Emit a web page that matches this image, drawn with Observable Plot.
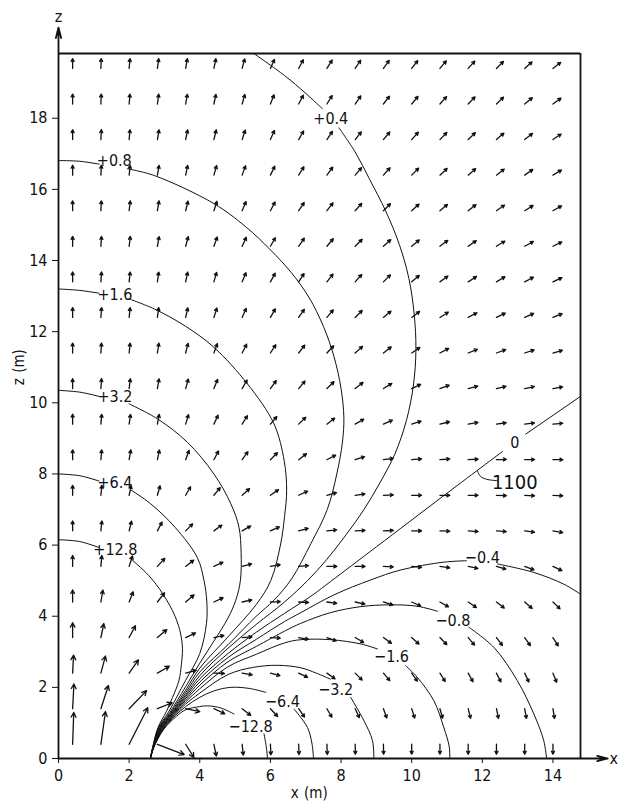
<!DOCTYPE html>
<html><head><meta charset="utf-8">
<script src="https://cdn.jsdelivr.net/npm/d3@7"></script>
<script src="https://cdn.jsdelivr.net/npm/@observablehq/plot@0.6"></script>
<style>
html,body{margin:0;padding:0;background:#fff;}
</style></head><body><div id="chart"></div>
<script>
// ---------- DATA ----------
const xTicks = [0, 2, 4, 6, 8, 10, 12, 14];
const zTicks = [0, 2, 4, 6, 8, 10, 12, 14, 16, 18];
const xExtent = [0, 14.78];
const zExtent = [0, 19.82];

// arrow grid (arrow starts at grid point)
const xCols = [0.4, 1.2, 2.0, 2.8, 3.6, 4.4, 5.2, 6.0, 6.8, 7.6, 8.4, 9.2, 10.0, 10.8, 11.6, 12.4, 13.2, 14.0];
const zRows = [19.4, 18.4, 17.4, 16.4, 15.4, 14.4, 13.4, 12.4, 11.4, 10.4, 9.4, 8.4, 7.4, 6.4, 5.4, 4.4, 3.4, 2.4, 1.4, 0.4];
// arrow directions (degrees, counter-clockwise from +x), rows follow zRows
const arrowAngles = [
  [90, 88, 85, 82, 80, 78, 75, 66, 62, 58, 56, 54, 52, 50, 48, 45, 42, 38],
  [90, 88, 85, 82, 80, 78, 74, 68, 62, 58, 55, 52, 50, 48, 46, 44, 40, 36],
  [90, 87, 85, 80, 78, 76, 72, 66, 60, 56, 52, 50, 48, 46, 44, 41, 38, 34],
  [90, 87, 84, 80, 78, 74, 70, 64, 58, 54, 50, 48, 45, 43, 41, 38, 35, 31],
  [90, 87, 83, 80, 76, 72, 67, 62, 56, 52, 48, 45, 42, 40, 38, 35, 32, 29],
  [90, 86, 83, 80, 75, 70, 65, 60, 55, 50, 45, 42, 40, 37, 35, 32, 29, 26],
  [90, 86, 84, 82, 78, 74, 67, 61, 57, 52, 48, 45, 40, 36, 33, 31, 28, 25],
  [90, 86, 84, 82, 77, 72, 66, 60, 55, 50, 45, 40, 37, 32, 28, 26, 24, 22],
  [90, 86, 84, 81, 76, 70, 63, 57, 52, 47, 42, 38, 34, 28, 22, 20, 18, 16],
  [90, 86, 83, 80, 74, 68, 60, 54, 50, 44, 38, 32, 25, 20, 15, 13, 12, 10],
  [90, 85, 82, 79, 73, 65, 58, 50, 44, 38, 30, 24, 18, 14, 10, 8, 7, 5],
  [90, 85, 80, 78, 70, 62, 54, 45, 38, 28, 18, 8, 5, 4, 3, 2, 1, 0],
  [90, 84, 78, 74, 60, 50, 42, 35, 25, 15, 8, 2, 0, 0, 0, -2, -3, -3],
  [90, 84, 76, 62, 45, 36, 30, 24, 15, 6, 3, 2, 0, -2, -4, -5, -8, -10],
  [90, 85, 72, 47, 38, 25, 15, 10, 5, 0, 0, -3, -5, -8, -12, -16, -20, -25],
  [90, 80, 68, 52, 40, 25, 12, 2, -3, -8, -12, -18, -24, -30, -34, -38, -41, -44],
  [90, 78, 62, 40, 25, 12, 4, -3, -10, -20, -30, -36, -42, -46, -50, -53, -55, -58],
  [87, 75, 55, 30, 15, -2, -10, -15, -25, -35, -45, -50, -55, -58, -61, -63, -65, -68],
  [87, 72, 46, 22, -12, -25, -38, -47, -55, -60, -65, -70, -72, -74, -76, -78, -80, -81],
  [88, 82, 63, -21, -58, -78, -84, -87, -88, -88, -89, -89, -90, -90, -90, -90, -90, -90]
];
// arrow lengths (m) for the six lowest rows (5.4 ... 0.4); all others use baseArrowLength
const baseArrowLength = 0.28;
const lowArrowLengths = [
  [0.31, 0.31, 0.31, 0.31, 0.29, 0.28, 0.28, 0.28, 0.28, 0.28, 0.28, 0.28, 0.28, 0.28, 0.28, 0.28, 0.28, 0.28],
  [0.34, 0.34, 0.31, 0.33, 0.31, 0.29, 0.28, 0.28, 0.28, 0.28, 0.28, 0.28, 0.28, 0.28, 0.28, 0.28, 0.28, 0.28],
  [0.42, 0.40, 0.38, 0.35, 0.31, 0.29, 0.28, 0.28, 0.28, 0.28, 0.28, 0.28, 0.28, 0.28, 0.28, 0.28, 0.28, 0.28],
  [0.51, 0.50, 0.46, 0.39, 0.31, 0.30, 0.29, 0.28, 0.28, 0.28, 0.28, 0.28, 0.28, 0.28, 0.28, 0.28, 0.28, 0.28],
  [0.70, 0.69, 0.71, 0.45, 0.41, 0.34, 0.31, 0.30, 0.29, 0.28, 0.28, 0.28, 0.28, 0.28, 0.28, 0.28, 0.28, 0.28],
  [0.90, 0.93, 1.16, 0.81, 0.44, 0.34, 0.31, 0.30, 0.29, 0.29, 0.28, 0.28, 0.28, 0.28, 0.28, 0.28, 0.28, 0.28]
];

// contour lines (x, z); null = gap for the label
const cP128 = [[0,6.15],[0.6,6.1],[1.15,5.93],null,[2.05,5.61],[2.55,5.15],[2.96,4.62],[3.3,4.0],[3.46,3.5],[3.51,3.1],[3.48,2.65],[3.41,2.19],[3.23,1.72],[3.056,1.324],[2.818,0.873],[2.673,0.342],[2.6,0]];
const cP64 = [[0,8.0],[0.6,7.95],[1.15,7.8],null,[2.05,7.55],[2.61,7.16],[3.3,6.5],[3.93,5.65],[4.12,5.0],[4.2,4.4],[4.19,3.8],[4.0,2.95],[3.6,2.2],[3.113,1.303],[2.831,0.87],[2.676,0.342],[2.6,0]];
const cP32 = [[0,10.35],[0.6,10.3],[1.15,10.18],null,[2.0,9.97],[2.8,9.55],[3.65,8.89],[4.4,8.0],[4.88,7.16],[5.11,6.5],[5.17,5.8],[5.15,5.0],[5.02,4.45],[4.8,3.95],[4.4,3.3],[4.0,2.68],[3.6,2.02],[3.147,1.289],[2.845,0.866],[2.679,0.341],[2.6,0]];
const cP16 = [[0,13.2],[0.6,13.16],[1.15,13.08],null,[2.0,12.92],[2.71,12.64],[3.6,12.15],[4.4,11.56],[5.35,10.53],[6.1,9.41],[6.39,8.37],[6.46,7.53],[6.4,6.8],[6.29,6.03],[6.01,5.0],[5.6,4.33],[4.8,3.42],[4.0,2.54],[3.6,1.92],[3.169,1.279],[2.859,0.862],[2.682,0.34],[2.6,0]];
const cP08 = [[0,16.81],[0.6,16.79],[1.15,16.71],null,[1.95,16.58],[2.71,16.39],[4.4,15.6],[5.3,14.95],[6.0,14.3],[6.6,13.65],[7.1,12.95],[7.5,12.15],[7.8,11.3],[8.0,10.4],[8.08,9.59],[8.04,8.9],[7.88,8.0],[7.61,7.0],[7.15,6.05],[6.6,5.05],[6.1,4.45],[5.6,4.0],[4.8,3.2],[4.0,2.43],[3.6,1.85],[3.187,1.271],[2.872,0.858],[2.685,0.34],[2.6,0]];
const cP04 = [[5.53,19.82],[6.4,19.2],[7.0,18.7],[7.47,18.27],null,[7.94,17.73],[8.4,17.05],[8.8,16.3],[9.26,15.4],[9.65,14.45],[9.92,13.5],[10.07,12.5],[10.12,11.5],[10.05,10.5],[9.85,9.5],[9.52,8.55],[9.1,7.75],[8.65,7.0],[8.15,6.3],[7.6,5.6],[7.05,5.0],[6.4,4.4],[5.6,3.77],[4.8,3.1],[4.0,2.33],[3.6,1.79],[3.203,1.264],[2.886,0.853],[2.688,0.339],[2.6,0]];
const c0 = [[2.6,0],[2.691,0.338],[2.899,0.849],[3.218,1.256],[3.6,1.74],[4.0,2.24],[4.8,2.95],[5.6,3.55],[6.4,4.08],[7.2,4.6],[7.71,4.98],[9.0,5.95],[10.91,7.39],[12.57,8.63],null,[13.23,9.12],[14.78,10.18]];
const cM04 = [[2.6,0],[2.694,0.337],[2.912,0.844],[3.233,1.249],[3.6,1.69],[4.0,2.15],[4.8,2.84],[5.6,3.35],[6.4,3.85],[6.86,4.1],[7.8,4.6],[8.84,5.02],[9.69,5.3],[10.91,5.52],[11.55,5.56],null,[12.43,5.47],[13.46,5.23],[14.31,4.9],[14.78,4.62]];
const cM08 = [[2.6,0],[2.696,0.336],[2.925,0.839],[3.249,1.241],[3.6,1.64],[4.0,2.06],[4.8,2.72],[5.6,3.15],[6.4,3.58],[6.86,3.8],[7.7,4.1],[8.56,4.27],[9.4,4.32],[10.16,4.28],[10.73,4.14],null,[11.62,3.69],[12.33,3.12],[12.99,2.19],[13.46,1.25],[13.74,0.5],[13.82,0]];
const cM16 = [[2.6,0],[2.699,0.336],[2.939,0.834],[3.266,1.231],[3.6,1.59],[4.0,1.96],[4.8,2.58],[5.6,2.93],[6.4,3.25],[6.86,3.34],[7.71,3.34],[8.56,3.22],[9.03,3.08],null,[9.83,2.61],[10.16,2.28],[10.63,1.62],[10.91,0.87],[11.06,0.35],[11.08,0]];
const cM32 = [[2.6,0],[2.702,0.335],[2.952,0.828],[3.285,1.221],[3.6,1.53],[4.0,1.84],[4.8,2.36],[5.5,2.56],[6.2,2.62],[6.86,2.55],[7.3,2.4],[7.7,2.23],null,[8.27,1.72],[8.65,1.06],[8.89,0.5],[8.93,0]];
const cM64 = [[2.6,0],[2.705,0.334],[2.965,0.823],[3.308,1.208],[3.6,1.46],[4.0,1.72],[4.4,1.9],[4.88,2.0],[5.4,1.97],[5.87,1.86],null,[6.67,1.39],[7.05,0.87],[7.18,0.4],[7.22,0]];
const cM128 = [[2.6,0],[2.708,0.333],[2.978,0.817],[3.342,1.187],[3.6,1.37],[4.0,1.46],[4.22,1.48],[4.6,1.42],[4.97,1.25],null,[5.82,0.69],[5.88,0.35],[5.92,0]];
const leader1100 = [[11.86,8.1],[11.94,7.94],[12.12,7.85],[12.43,7.81]];

const contourNames = ["+12.8","+6.4","+3.2","+1.6","+0.8","+0.4","0","-0.4","-0.8","-1.6","-3.2","-6.4","-12.8"];
const contourLabelText = ["+12.8","+6.4","+3.2","+1.6","+0.8","+0.4","0","\u22120.4","\u22120.8","\u22121.6","\u22123.2","\u22126.4","\u221212.8"];
const contourLabelX = [1.61, 1.6, 1.6, 1.6, 1.58, 7.71, 12.92, 12.0, 11.17, 9.43, 7.85, 6.34, 5.44];
const contourLabelZ = [5.87, 7.75, 10.17, 13.03, 16.8, 17.98, 8.88, 5.63, 3.87, 2.86, 1.93, 1.59, 0.89];
const extraLabel = {text: "1100", x: 12.92, z: 7.75};

// axis arrows (axis extents beyond the frame) and axis titles
const axisArrowEnds = {x: 15.55, z: 20.55};
const axisNames = [{t: "z", x: 0, z: 20.85}, {t: "x", x: 15.72, z: 0}];
const axisTitles = [{t: "x\u2009\u2009(m)", x: 7.1, z: -0.98}, {t: "z\u2009\u2009(m)", x: -1.12, z: 11.0}];

// ---------- BUILD ----------
const W = 626, H = 805;
const mL = 58, mR = 46, mT = 53, mB = 47;
const kx = (W - mL - mR) / (xExtent[1] - xExtent[0]);
const kz = (H - mT - mB) / (zExtent[1] - zExtent[0]);

const arrows = [];
zRows.forEach((z, r) => xCols.forEach((x, c) => {
  const a = arrowAngles[r][c] * Math.PI / 180;
  const lr = r - (zRows.length - lowArrowLengths.length);
  const L = lr >= 0 ? lowArrowLengths[lr][c] : baseArrowLength;
  arrows.push({x1: x, y1: z, x2: x + L * Math.cos(a), y2: z + L * Math.sin(a) * kx / kz});
}));

const contourSets = [cP128, cP64, cP32, cP16, cP08, cP04, c0, cM04, cM08, cM16, cM32, cM64, cM128];
const contourRows = [];
contourSets.forEach((pts, i) => pts.forEach(p => {
  contourRows.push(p ? {x: p[0], z: p[1], id: contourNames[i]} : {x: NaN, z: NaN, id: contourNames[i]});
}));
const leaderRows = leader1100.map(p => ({x: p[0], z: p[1]}));
const labels = contourLabelText.map((t, i) => ({t, x: contourLabelX[i], z: contourLabelZ[i]}));

const font = "'Liberation Sans Narrow','DejaVu Sans Condensed','Arial Narrow',sans-serif";

const chart = Plot.plot({
  width: W, height: H,
  marginLeft: mL, marginRight: mR, marginTop: mT, marginBottom: mB,
  style: {fontFamily: font, fontSize: "16px", color: "#111", background: "#fff", overflow: "visible"},
  x: {domain: xExtent, ticks: xTicks, tickSize: 5, tickPadding: 6, label: null, tickFormat: d => d},
  y: {domain: zExtent, ticks: zTicks, tickSize: 6, tickPadding: 5, label: null, tickFormat: d => d},
  marks: [
    Plot.ruleY([zExtent[1]], {x1: xExtent[0], x2: xExtent[1], stroke: "#111", strokeWidth: 1.8}),
    Plot.ruleX([xExtent[1]], {y1: zExtent[0], y2: zExtent[1], stroke: "#111", strokeWidth: 1.8}),
    Plot.arrow([{x1: 0, y1: 0, x2: 0, y2: axisArrowEnds.z}, {x1: 0, y1: 0, x2: axisArrowEnds.x, y2: 0}],
      {x1: "x1", y1: "y1", x2: "x2", y2: "y2", stroke: "#111", strokeWidth: 1.8, headLength: 9, headAngle: 28}),
    Plot.text(axisNames, {x: "x", y: "z", text: "t", fontSize: 16, textAnchor: "middle"}),
    Plot.text(axisTitles.slice(0, 1), {x: "x", y: "z", text: "t", fontSize: 15}),
    Plot.text(axisTitles.slice(1), {x: "x", y: "z", text: "t", fontSize: 15, rotate: -90}),
    Plot.line(contourRows, {x: "x", y: "z", z: "id", curve: "catmull-rom", stroke: "#111", strokeWidth: 1}),
    Plot.line(leaderRows, {x: "x", y: "z", curve: "catmull-rom", stroke: "#111", strokeWidth: 1}),
    Plot.text(labels, {x: "x", y: "z", text: "t", fontSize: 16, fill: "#111"}),
    Plot.text([extraLabel], {x: "x", y: "z", text: "text", fontSize: 20, fill: "#111"}),
    Plot.arrow(arrows, {x1: "x1", y1: "y1", x2: "x2", y2: "y2", stroke: "#111", strokeWidth: 1.3, headLength: 6, headAngle: 55})
  ]
});
document.getElementById("chart").appendChild(chart);
</script>
</body></html>
